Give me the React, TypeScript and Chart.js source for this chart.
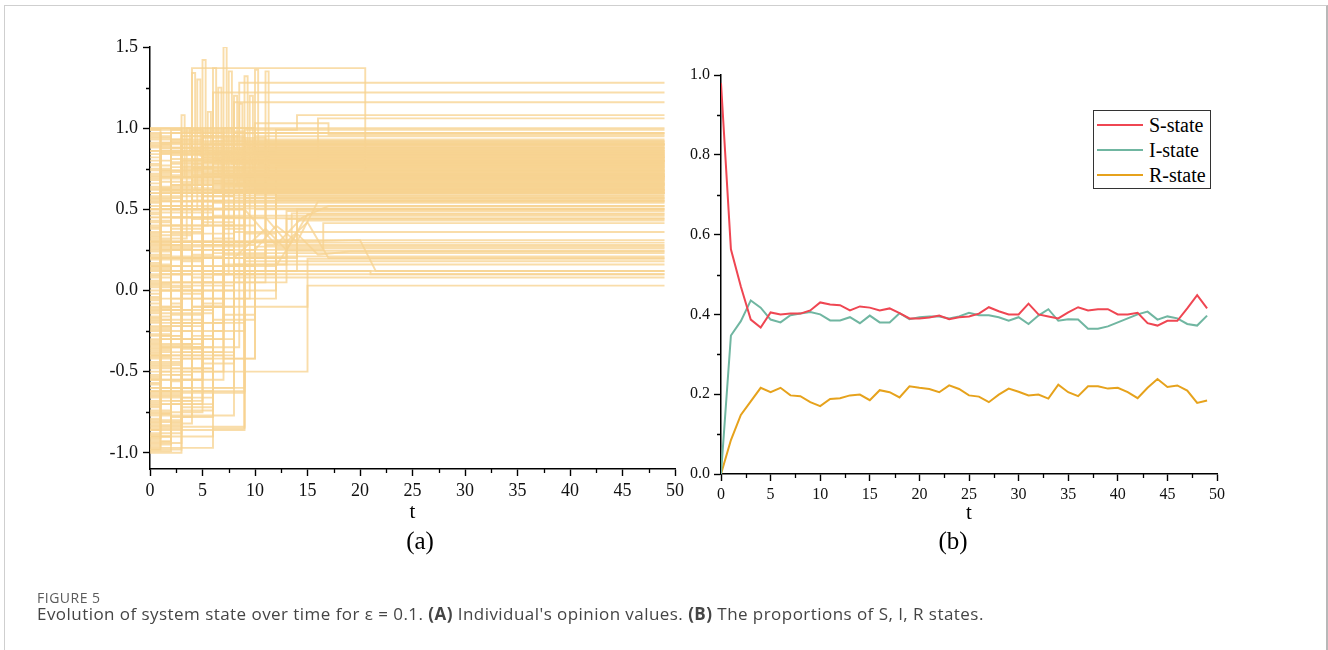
import React, { useEffect, useRef } from 'react';
import { Chart, registerables } from 'chart.js';

Chart.register(...registerables);

// ---------------- Panel (a): individual opinion trajectories ----------------
// Each path: [initial value at t=0, t1, v1, t2, v2, ...]  (value held until next change)
const highPaths: number[][] = [
  [0.62, 3, 0.9, 4, 1.37, 20.5, 0.74],
  [0.36, 5, 0.95, 8.5, 1.28],
  [0.08, 2, 0.58, 6, 1.22],
  [-0.28, 3, 0.45, 8, 1.16],
  [0.71, 9, 0.99, 14, 1.08],
  [0.52, 6, 0.8, 16, 1.06],
  [0.99, 3, 0.72, 7, 1.0],
  [0.93, 5, 0.85, 12, 0.99],
  [0.84, 2, 0.97],
  [0.45, 4, 0.7, 10, 0.95],
  [0.21, 7, 0.93],
  [1.0, 10, 1.03, 17, 0.96],
];

const spikePaths: number[][] = [
  [0.15, 3, 1.08, 3.3, 0.7, 11, 0.9],
  [-0.12, 4, 1.34, 4.3, 0.62],
  [0.3, 5, 1.42, 5.3, 0.85],
  [-0.4, 2, 0.3, 6, 1.37, 6.3, 0.8],
  [0.05, 7, 1.5, 7.3, 0.72],
  [0.6, 8, 1.2, 8.3, 0.66],
  [-0.2, 5, 0.4, 9, 1.32, 9.3, 0.88],
  [0.28, 10, 1.36, 10.3, 0.77],
  [-0.6, 4, 0.2, 11, 1.35, 11.3, 0.69],
  [0.5, 4.5, 1.3, 4.8, 0.83],
  [0.7, 6.5, 1.25, 6.8, 0.6],
  [0.1, 7.5, 1.35, 7.8, 0.78],
  [0.4, 5.5, 1.1, 5.8, 0.9],
  [-0.05, 9.5, 1.2, 9.8, 0.74],
  [0.32, 3.5, 1.0, 3.8, 0.86],
  [-0.35, 8.5, 1.15, 8.8, 0.7],
];

const bandPaths: number[][] = [
  [1.0, 10, 0.92],
  [0.96, 1, 0.91],
  [0.91, 3, 0.86, 5, 0.895],
  [0.8, 1, 0.875],
  [0.77, 2, 0.6, 4, 0.865],
  [0.66, 1, 0.845],
  [0.56, 2, 0.835],
  [0.48, 3, 0.7, 6, 0.815],
  [0.33, 1, 0.55, 4, 0.805],
  [0.24, 2, 0.5, 5, 0.795],
  [0.17, 1, 0.45, 3, 0.765],
  [0.02, 2, 0.35, 4, 0.755],
  [-0.08, 1, 0.25, 3, 0.6, 6, 0.735],
  [-0.16, 2, 0.4, 5, 0.715],
  [-0.25, 1, 0.1, 4, 0.5, 7, 0.705],
  [-0.33, 2, 0.0, 5, 0.55, 8, 0.685],
  [-0.45, 1, -0.1, 3, 0.3, 6, 0.675],
  [-0.52, 3, 0.15, 7, 0.655],
  [-0.58, 1, -0.3, 4, 0.25, 8, 0.645],
  [-0.66, 2, -0.2, 5, 0.45, 9, 0.635],
  [-0.72, 1, -0.45, 3, 0.05, 6, 0.615],
  [-0.8, 2, -0.35, 5, 0.2, 10, 0.595],
  [-0.88, 1, -0.6, 4, -0.1, 7, 0.585],
  [-0.93, 2, -0.7, 6, 0.3, 9, 0.625],
  [-0.98, 3, -0.5, 7, 0.1, 12, 0.705],
  [0.88, 4, 0.78],
  [0.74, 5, 0.82],
  [0.57, 3, 0.75],
  [0.42, 2, 0.65],
  [0.26, 4, 0.71],
  [0.12, 6, 0.64],
  [0.99, 1, 0.73],
  [0.94, 2, 0.69],
  [0.86, 1, 0.67],
  [0.69, 2, 0.79],
  [0.6, 1, 0.86],
  [0.38, 1, 0.61],
  [0.14, 2, 0.81],
  [-0.02, 1, 0.63],
  [-0.19, 1, 0.74],
  [-0.41, 2, 0.76],
  [-0.55, 1, 0.2, 3, 0.84],
  [-0.75, 1, 0.0, 4, 0.68],
  [-0.83, 3, 0.9],
  [-0.91, 1, -0.4, 5, 0.72],
  [-0.95, 2, 0.2, 5, 0.79],
  [-0.27, 2, 0.88],
  [0.47, 1, 0.62],
];

const earlyPaths: number[][] = [
  [0.97, 1, 0.8, 2, 0.93, 4, 0.76, 6, 0.9],
  [0.9, 2, 0.7, 3, 0.98, 5, 0.82],
  [0.82, 1, 0.62, 3, 0.88, 6, 0.7],
  [0.75, 2, 0.92, 4, 0.6, 7, 0.8],
  [0.68, 1, 0.85, 3, 0.55, 5, 0.9, 8, 0.75],
  [0.58, 2, 0.78, 5, 0.95, 9, 0.68],
  [0.5, 1, 0.7, 4, 0.5, 6, 0.85],
  [0.43, 2, 0.6, 3, 0.9, 7, 0.64],
  [0.35, 1, 0.6, 3, 0.8, 5, 0.58, 8, 0.87],
  [0.29, 2, 0.52, 4, 0.88, 6, 0.72],
  [0.22, 1, 0.4, 3, 0.65, 6, 0.92, 10, 0.8],
  [0.16, 2, 0.3, 4, 0.55, 7, 0.83],
  [0.09, 1, 0.28, 3, 0.62, 5, 0.42, 8, 0.76],
  [0.04, 2, 0.2, 5, 0.7],
  [-0.04, 1, 0.15, 3, 0.48, 6, 0.66],
  [-0.11, 2, 0.1, 4, 0.35, 6, 0.6, 9, 0.89],
  [-0.17, 1, 0.05, 3, 0.3, 7, 0.71],
  [-0.24, 2, -0.05, 4, 0.22, 6, 0.58, 8, 0.8],
  [-0.31, 1, -0.12, 3, 0.18, 5, 0.5, 9, 0.67],
  [-0.37, 2, -0.15, 5, 0.28, 8, 0.61],
  [-0.44, 1, -0.25, 4, 0.08, 6, 0.46, 10, 0.86],
  [-0.5, 2, -0.3, 4, -0.05, 7, 0.38, 9, 0.73],
  [-0.57, 1, -0.4, 3, -0.12, 6, 0.25, 8, 0.65],
  [-0.64, 3, -0.33, 5, 0.0, 8, 0.55],
  [-0.69, 1, -0.55, 4, -0.2, 7, 0.15, 10, 0.63],
  [-0.74, 2, -0.48, 5, -0.1, 8, 0.6],
  [-0.79, 1, -0.65, 3, -0.42, 6, 0.05, 9, 0.57],
  [-0.85, 2, -0.6, 4, -0.3, 7, 0.22, 11, 0.69],
  [-0.89, 1, -0.75, 5, -0.38, 8, 0.12, 11, 0.6],
  [-0.94, 3, -0.72, 6, -0.25, 9, 0.35, 12, 0.77],
  [-0.99, 2, -0.82, 4, -0.55, 7, -0.15, 10, 0.5],
  [-0.92, 1, -0.88, 3, -0.66, 6, -0.3, 8, 0.3, 12, 0.58],
  [-0.81, 3, -0.78, 6, -0.6, 9, 0.05, 13, 0.44],
  [-0.6, 1, -0.5, 5, -0.45, 8, -0.05, 12, 0.56],
  [-0.46, 3, -0.4, 7, -0.42, 10, 0.27],
  [-0.34, 4, -0.3, 6, -0.18, 10, 0.2, 14, 0.5],
  [0.95, 2, 0.99, 5, 0.88, 8, 0.97],
  [0.86, 3, 0.95, 6, 0.74, 9, 0.91],
  [0.78, 1, 0.97, 4, 0.84, 7, 0.6],
  [0.63, 2, 0.85, 5, 0.66, 8, 0.94, 11, 0.82],
  [-0.96, 1, -0.9, 2, -0.78, 4, -0.62, 6, 0.1, 9, 0.7],
  [-0.86, 1, -0.7, 3, -0.55, 5, -0.2, 7, 0.4, 10, 0.83],
  [-0.76, 2, -0.68, 4, -0.35, 6, 0.3, 8, 0.79],
  [-0.65, 1, -0.62, 3, -0.38, 5, 0.12, 7, 0.66],
  [-0.53, 1, -0.35, 2, -0.2, 5, 0.4, 8, 0.9],
  [-0.39, 1, -0.22, 3, 0.0, 5, 0.6, 8, 0.62],
];

const wanderPaths: number[][] = [
  [-0.98, 1, -0.93, 2, -0.85, 3, -0.7, 5, -0.1, 7, 0.65],
  [-0.9, 2, -0.8, 3, -0.74, 6, -0.4, 8, 0.3, 10, 0.82],
  [-0.82, 1, -0.76, 2, -0.66, 4, -0.48, 6, 0.2, 9, 0.71],
  [-0.71, 1, -0.6, 2, -0.52, 4, -0.28, 6, 0.35, 8, 0.88],
  [-0.62, 2, -0.56, 3, -0.36, 5, -0.08, 7, 0.5, 9, 0.74],
  [-0.54, 1, -0.44, 3, -0.22, 5, 0.1, 7, 0.62],
  [-0.47, 2, -0.33, 4, -0.1, 6, 0.32, 8, 0.8],
  [-0.4, 1, -0.28, 3, -0.02, 5, 0.55, 7, 0.7],
  [-0.32, 1, -0.18, 2, 0.02, 4, 0.44, 6, 0.92],
  [-0.23, 2, -0.08, 3, 0.12, 5, 0.7, 7, 0.6],
  [-0.13, 1, 0.0, 2, 0.25, 4, 0.5, 6, 0.78],
  [-0.06, 1, 0.12, 3, 0.38, 5, 0.82],
  [0.06, 1, 0.22, 2, 0.45, 4, 0.75, 6, 0.66],
  [0.13, 2, 0.38, 3, 0.7, 5, 0.94, 8, 0.72],
  [0.2, 1, 0.5, 3, 0.8, 6, 0.61],
  [0.31, 2, 0.65, 4, 0.92, 6, 0.84],
  [0.39, 1, 0.72, 2, 0.5, 4, 0.97, 7, 0.69],
  [0.54, 1, 0.9, 3, 0.66, 5, 0.98, 9, 0.77],
  [0.72, 1, 0.52, 3, 0.95, 6, 0.8],
  [0.89, 2, 0.64, 4, 0.99, 8, 0.85],
];

const midPaths: number[][] = [
  [0.64, 2, 0.45, 8, 0.57],
  [0.34, 4, 0.555],
  [-0.36, 2, 0.05, 6, 0.54],
  [-0.7, 3, -0.25, 7, 0.52],
  [0.19, 5, 0.505],
  [-0.86, 9, 0.2, 13, 0.49],
  [-0.1, 3, 0.3, 13.5, 0.475],
  [-0.48, 6, 0.1, 10, 0.46],
  [0.55, 7, 0.445],
  [-0.22, 4, 0.12, 14, 0.43],
  [-0.63, 9, 0.25, 16.5, 0.415],
  [0.03, 8, 0.36],
];

const lowPaths: number[][] = [
  [-0.42, 10, 0.31],
  [0.0, 3, 0.2, 7, 0.295],
  [-0.55, 5, 0.05, 11, 0.28],
  [-0.3, 4, 0.0, 12, 0.26],
  [-0.77, 8, 0.16, 13, 0.245],
  [-0.14, 6, 0.23],
  [-0.9, 6, -0.2, 9, 0.21],
  [-0.68, 5, -0.1, 15, 0.195],
  [0.27, 9, 0.18],
  [-0.38, 7, 0.16],
  [-0.97, 6, -0.85, 9, 0.12],
  [-0.84, 9, 0.1],
  [-0.18, 5, -0.5, 15, 0.03],
  [-1.0, 3, -0.6, 8, 0.08],
  [-0.62, 9, 0.12, 21, 0.1],
];

// Gradual (non-stepped) drifts seen between t = 8 and t = 22
const driftPaths: number[][] = [
  [0.25, 10, 0.25, 12, 0.4, 14, 0.3, 16, 0.55],
  [0.45, 11, 0.45, 13, 0.3, 15, 0.42, 17, 0.2],
  [0.15, 12, 0.15, 14, 0.35, 16, 0.22, 19, 0.24],
  [0.5, 9, 0.5, 12, 0.28, 14.5, 0.45, 17, 0.52],
  [0.3, 13, 0.3, 20, 0.31, 21.5, 0.12],
  [0.2, 8, 0.2, 11, 0.38, 13, 0.25, 15, 0.47],
];

const opinionEndTime = 49;
const leftXTicks = [0, 5, 10, 15, 20, 25, 30, 35, 40, 45, 50];
const leftXMinor = [2.5, 7.5, 12.5, 17.5, 22.5, 27.5, 32.5, 37.5, 42.5, 47.5];
const leftYTicks = [-1.0, -0.5, 0.0, 0.5, 1.0, 1.5];
const leftYMinor = [-0.75, -0.25, 0.25, 0.75, 1.25];

// ---------------- Panel (b): S, I, R proportions ----------------
const timeSteps = [
  0, 1, 2, 3, 4, 5, 6, 7, 8, 9, 10, 11, 12, 13, 14, 15, 16, 17, 18, 19, 20, 21, 22, 23, 24,
  25, 26, 27, 28, 29, 30, 31, 32, 33, 34, 35, 36, 37, 38, 39, 40, 41, 42, 43, 44, 45, 46, 47, 48, 49,
];
const sState = [
  0.98, 0.563, 0.47, 0.387, 0.367, 0.405, 0.4, 0.402, 0.402, 0.41,
  0.43, 0.425, 0.423, 0.41, 0.42, 0.417, 0.41, 0.415, 0.403, 0.39,
  0.39, 0.392, 0.397, 0.388, 0.393, 0.395, 0.402, 0.418, 0.408, 0.4,
  0.4, 0.427, 0.4, 0.395, 0.39, 0.405, 0.418, 0.41, 0.413, 0.413,
  0.4, 0.4, 0.404, 0.378, 0.372, 0.384, 0.384, 0.415, 0.448, 0.415,
];
const iState = [
  0.0, 0.347, 0.383, 0.435, 0.417, 0.387, 0.38, 0.398, 0.402, 0.406,
  0.4, 0.385, 0.385, 0.393, 0.378, 0.397, 0.38, 0.38, 0.403, 0.388,
  0.393, 0.395, 0.395, 0.39, 0.395, 0.404, 0.398, 0.398, 0.393, 0.384,
  0.393, 0.376, 0.397, 0.413, 0.384, 0.388, 0.387, 0.364, 0.364, 0.37,
  0.38, 0.39, 0.4, 0.407, 0.387, 0.395, 0.39, 0.376, 0.372, 0.397,
];
const rState = [
  0.0, 0.085, 0.148, 0.182, 0.216, 0.205, 0.216, 0.197, 0.195, 0.18,
  0.17, 0.188, 0.19, 0.197, 0.199, 0.185, 0.21, 0.205, 0.192, 0.22,
  0.216, 0.213, 0.205, 0.222, 0.213, 0.197, 0.194, 0.18, 0.199, 0.214,
  0.206, 0.197, 0.199, 0.189, 0.224, 0.205, 0.195, 0.22, 0.22, 0.214,
  0.216, 0.205, 0.19, 0.216, 0.238, 0.218, 0.222, 0.209, 0.178, 0.184,
];
const seriesLabels = ['S-state', 'I-state', 'R-state'];
const seriesColors = ['#EF4652', '#70B6A1', '#E6A21C'];
const rightXTicks = [0, 5, 10, 15, 20, 25, 30, 35, 40, 45, 50];
const rightXMinor = [2.5, 7.5, 12.5, 17.5, 22.5, 27.5, 32.5, 37.5, 42.5, 47.5];
const rightYTicks = [0.0, 0.2, 0.4, 0.6, 0.8, 1.0];
const rightYMinor = [0.1, 0.3, 0.5, 0.7, 0.9];

const SERIF = "'Liberation Serif', 'Times New Roman', serif";
const OPINION_COLOR = 'rgba(247,212,146,0.78)';

const minorTickPlugin = {
  id: 'minorTicks',
  afterDraw(chart: any, _args: any, opts: any) {
    const { ctx } = chart;
    const xs = chart.scales.x;
    const ys = chart.scales.y;
    ctx.save();
    ctx.strokeStyle = '#000';
    ctx.lineWidth = 1.3;
    ctx.beginPath();
    for (const v of opts.x || []) {
      const px = Math.round(xs.getPixelForValue(v)) + 0.5;
      ctx.moveTo(px, ys.bottom);
      ctx.lineTo(px, ys.bottom + opts.length);
    }
    for (const v of opts.y || []) {
      const py = Math.round(ys.getPixelForValue(v)) + 0.5;
      ctx.moveTo(xs.left, py);
      ctx.lineTo(xs.left - opts.length, py);
    }
    ctx.stroke();
    ctx.restore();
  },
};

function pathToPoints(p: number[]) {
  const pts = [{ x: 0, y: p[0] }];
  for (let i = 1; i + 1 < p.length; i += 2) pts.push({ x: p[i], y: p[i + 1] });
  pts.push({ x: opinionEndTime, y: pts[pts.length - 1].y });
  return pts;
}

function axisCommon(size: number) {
  return {
    grid: { drawOnChartArea: false, drawTicks: true, tickLength: 7, tickColor: '#000', tickWidth: 1.4 },
    border: { display: true, color: '#000', width: 1.5 },
    ticks: { font: { family: SERIF, size }, color: '#111', autoSkip: false, maxRotation: 0 },
  };
}

export default function App() {
  const leftRef = useRef<HTMLCanvasElement>(null);
  const rightRef = useRef<HTMLCanvasElement>(null);

  useEffect(() => {
    const steppedPaths = [...bandPaths, ...earlyPaths, ...wanderPaths, ...midPaths, ...lowPaths, ...highPaths, ...spikePaths];
    const opinionSets = [
      ...steppedPaths.map((p) => ({ p, stepped: 'before' as const })),
      ...driftPaths.map((p) => ({ p, stepped: false as const })),
    ];
    const leftAxis = axisCommon(18);
    const left = new Chart(leftRef.current!, {
      type: 'line',
      data: {
        datasets: opinionSets.map((d, i) => ({
          label: 'individual ' + (i + 1),
          data: pathToPoints(d.p),
          borderColor: OPINION_COLOR,
          borderWidth: 1.9,
          pointRadius: 0,
          stepped: d.stepped,
          fill: false,
        })),
      },
      options: {
        responsive: false,
        animation: false,
        events: [],
        layout: { padding: { left: 100, right: 25, top: 47, bottom: 650 - 469 - 56 } },
        plugins: {
          legend: { display: false },
          tooltip: { enabled: false },
          minorTicks: { x: leftXMinor, y: leftYMinor, length: 4 },
        } as any,
        scales: {
          x: {
            type: 'linear',
            min: 0,
            max: 50,
            ...leftAxis,
            ticks: { ...leftAxis.ticks, padding: 4, callback: (v: any) => String(v) },
            afterBuildTicks: (s: any) => { s.ticks = leftXTicks.map((v) => ({ value: v })); },
            afterFit: (s: any) => { s.height = 56; },
            title: { display: true, text: 't', font: { family: SERIF, size: 21 }, color: '#000', padding: { top: 0, bottom: 0 } },
          },
          y: {
            type: 'linear',
            min: -1.1,
            max: 1.5,
            ...leftAxis,
            ticks: { ...leftAxis.ticks, padding: 5, callback: (v: any) => Number(v).toFixed(1) },
            afterBuildTicks: (s: any) => { s.ticks = leftYTicks.map((v) => ({ value: v })); },
            afterFit: (s: any) => { s.width = 50; },
          },
        },
      },
      plugins: [minorTickPlugin],
    } as any);

    const rightAxis = axisCommon(16);
    const seriesValues = [sState, iState, rState];
    const right = new Chart(rightRef.current!, {
      type: 'line',
      data: {
        datasets: seriesValues.map((vals, k) => ({
          label: seriesLabels[k],
          data: timeSteps.map((t, i) => ({ x: t, y: vals[i] })),
          borderColor: seriesColors[k],
          borderWidth: 2,
          pointRadius: 0,
          fill: false,
          tension: 0,
        })),
      },
      options: {
        responsive: false,
        animation: false,
        events: [],
        layout: { padding: { left: 5, right: 648 - 537, top: 75, bottom: 650 - 474 - 52 } },
        plugins: {
          legend: { display: false },
          tooltip: { enabled: false },
          minorTicks: { x: rightXMinor, y: rightYMinor, length: 4 },
        } as any,
        scales: {
          x: {
            type: 'linear',
            min: 0,
            max: 50,
            ...rightAxis,
            ticks: { ...rightAxis.ticks, padding: 4, callback: (v: any) => String(v) },
            afterBuildTicks: (s: any) => { s.ticks = rightXTicks.map((v) => ({ value: v })); },
            afterFit: (s: any) => { s.height = 52; },
            title: { display: true, text: 't', font: { family: SERIF, size: 21 }, color: '#000', padding: { top: 0, bottom: 0 } },
          },
          y: {
            type: 'linear',
            min: 0,
            max: 1.0,
            ...rightAxis,
            ticks: { ...rightAxis.ticks, padding: 4, callback: (v: any) => Number(v).toFixed(1) },
            afterBuildTicks: (s: any) => { s.ticks = rightYTicks.map((v) => ({ value: v })); },
            afterFit: (s: any) => { s.width = 36; },
          },
        },
      },
      plugins: [minorTickPlugin],
    } as any);

    return () => {
      left.destroy();
      right.destroy();
    };
  }, []);

  return (
    <div style={{ position: 'fixed', left: 0, top: 0, width: 1328, height: 650, background: '#fff', overflow: 'hidden' }}>
      <div style={{ position: 'absolute', left: 4, top: 5, width: 1321, height: 700, borderLeft: '1px solid #cfcfcf', borderTop: '1px solid #cfcfcf', borderRight: '2px solid #b8b8b8' }} />
      <canvas ref={leftRef} width={700} height={650} style={{ position: 'absolute', left: 0, top: 0, width: 700, height: 650 }} />
      <canvas ref={rightRef} width={648} height={650} style={{ position: 'absolute', left: 680, top: 0, width: 648, height: 650 }} />
      <div style={{ position: 'absolute', left: 1093, top: 110, width: 116, height: 77, border: '1px solid #333', background: '#fff', fontFamily: SERIF, fontSize: 20, color: '#000' }}>
        {seriesLabels.map((lab, k) => (
          <div key={lab} style={{ position: 'absolute', left: 3, top: 3 + k * 25, height: 22, display: 'flex', alignItems: 'center', whiteSpace: 'nowrap' }}>
            <span style={{ display: 'inline-block', width: 46, height: 2, background: seriesColors[k], marginRight: 6 }} />
            <span>{lab}</span>
          </div>
        ))}
      </div>
      <div style={{ position: 'absolute', left: 0, width: 840, top: 527, textAlign: 'center', fontFamily: SERIF, fontSize: 25, color: '#000' }}>
        <span style={{ position: 'absolute', left: 420, transform: 'translateX(-50%)' }}>(a)</span>
        <span style={{ position: 'absolute', left: 953, transform: 'translateX(-50%)' }}>(b)</span>
      </div>
      <div style={{ position: 'absolute', left: 37, top: 588, fontFamily: "'Open Sans', sans-serif", fontSize: 14, color: '#5b5b5b', letterSpacing: 0.5 }}>
        FIGURE 5
      </div>
      <div style={{ position: 'absolute', left: 37, top: 602, fontFamily: "'Open Sans', sans-serif", fontSize: 17, color: '#454545', whiteSpace: 'nowrap', letterSpacing: 0.45 }}>
        Evolution of system state over time for ε = 0.1. <b>(A)</b> Individual's opinion values. <b>(B)</b> The proportions of S, I, R states.
      </div>
    </div>
  );
}
